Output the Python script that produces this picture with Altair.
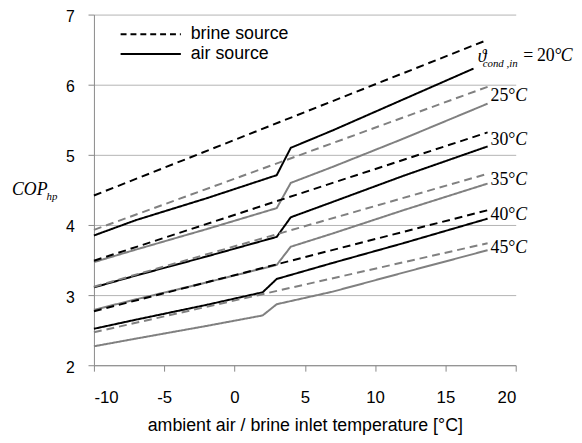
import altair as alt
import pandas as pd

# ---- data ----
cond_temps = [20, 25, 30, 35, 40, 45]
brine_x = [-10, 18]
brine_y = {
    20: [4.42, 6.64],
    25: [3.93, 5.97],
    30: [3.49, 5.32],
    35: [3.12, 4.73],
    40: [2.77, 4.21],
    45: [2.47, 3.74],
}
air_x = {
    20: [-10, -7, -2, 3, 4, 7, 12, 17],
    25: [-10, -7, -2, 3, 4, 7, 12, 18],
    30: [-10, -7, -2, 3, 4, 7, 12, 18],
    35: [-10, -7, -2, 3, 4, 7, 12, 18],
    40: [-10, -7, -2, 2, 3, 7, 12, 18],
    45: [-10, -7, -2, 2, 3, 7, 12, 18],
}
air_y = {
    20: [3.85, 4.07, 4.38, 4.71, 5.10, 5.35, 5.79, 6.23],
    25: [3.47, 3.65, 3.94, 4.24, 4.60, 4.83, 5.23, 5.73],
    30: [3.11, 3.28, 3.55, 3.83, 4.11, 4.33, 4.70, 5.12],
    35: [2.79, 2.94, 3.18, 3.43, 3.69, 3.88, 4.21, 4.59],
    40: [2.52, 2.65, 2.86, 3.04, 3.23, 3.46, 3.74, 4.09],
    45: [2.27, 2.38, 2.56, 2.71, 2.87, 3.05, 3.32, 3.64],
}
x_ticks = [-10, -5, 0, 5, 10, 15, 20]
y_ticks = [2, 3, 4, 5, 6, 7]
line_colors = ["#000000", "#808080", "#000000", "#808080", "#000000", "#808080"]

rows = []
for t in cond_temps:
    for x, y in zip(brine_x, brine_y[t]):
        rows.append({"x": x, "y": y, "cond": str(t), "src": "brine source", "series": f"b{t}"})
    for x, y in zip(air_x[t], air_y[t]):
        rows.append({"x": x, "y": y, "cond": str(t), "src": "air source", "series": f"a{t}"})
df = pd.DataFrame(rows)

lab_rows = []
for t in cond_temps:
    lab_rows.append({"x": 18, "y": (brine_y[t][-1] + air_y[t][-1]) / 2, "cond": str(t),
                     "num": f"{t}°"})
lab = pd.DataFrame(lab_rows)

W, H = 427, 355
SANS = "Liberation Sans"
SERIF = "Liberation Serif"

xs = alt.Scale(domain=[-10, 20], nice=False)
ys = alt.Scale(domain=[2, 7], nice=False)

lines = alt.Chart(df).mark_line(strokeWidth=2).encode(
    x=alt.X("x:Q", scale=xs, title="ambient air / brine inlet temperature [°C]",
            axis=alt.Axis(values=x_ticks, grid=False, domainColor="#888888", tickColor="#888888",
                          tickSize=6, labelFontSize=17, labelFont=SANS, labelColor="#000000",
                          labelPadding=19, labelExpr="'' + datum.value",
                          titleFont=SANS, titleFontSize=18, titleFontWeight="normal",
                          titleColor="#000000", titlePadding=11)),
    y=alt.Y("y:Q", scale=ys, title=None,
            axis=alt.Axis(values=y_ticks, grid=True, gridColor="#b3b3b3", domainColor="#888888",
                          tickColor="#888888", tickSize=6, labelFontSize=16, labelFont=SANS,
                          labelColor="#000000", labelPadding=14, labelOffset=2,
                          labelExpr="'' + datum.value")),
    color=alt.Color("cond:N", scale=alt.Scale(domain=[str(t) for t in cond_temps], range=line_colors),
                    legend=None),
    strokeDash=alt.StrokeDash("src:N", scale=alt.Scale(domain=["brine source", "air source"],
                                                       range=[[8, 5], [1, 0]]), legend=None),
    detail="series:N",
)

lab_other = lab[lab["cond"] != "20"]
lab20 = lab[lab["cond"] == "20"]

num_txt = alt.Chart(lab_other).mark_text(align="left", baseline="middle", font=SERIF, fontSize=18,
                                         dx=3, dy=1, color="#000000").encode(
    x=alt.X("x:Q", scale=xs), y=alt.Y("y:Q", scale=ys), text="num:N")
c_txt = alt.Chart(lab_other).mark_text(align="left", baseline="middle", font=SERIF, fontSize=18,
                                       fontStyle="italic", dx=28, dy=1, color="#000000").encode(
    x=alt.X("x:Q", scale=xs), y=alt.Y("y:Q", scale=ys), text=alt.value("C"))

theta = alt.Chart(lab20).mark_text(align="left", baseline="middle", font=SERIF, fontSize=18,
                                   fontStyle="italic", dx=-10, dy=3, color="#000000").encode(
    x=alt.X("x:Q", scale=xs), y=alt.Y("y:Q", scale=ys), text=alt.value("ϑ"))
sub = alt.Chart(lab20).mark_text(align="left", baseline="middle", font=SERIF, fontSize=11,
                                 fontStyle="italic", dx=-5, dy=10, color="#000000").encode(
    x=alt.X("x:Q", scale=xs), y=alt.Y("y:Q", scale=ys), text=alt.value("cond ,in"))
eq = alt.Chart(lab20).mark_text(align="left", baseline="middle", font=SERIF, fontSize=18,
                                dx=36, dy=2, color="#000000").encode(
    x=alt.X("x:Q", scale=xs), y=alt.Y("y:Q", scale=ys), text=alt.value("="))
n20 = alt.Chart(lab20).mark_text(align="left", baseline="middle", font=SERIF, fontSize=18,
                                 dx=50, dy=2, color="#000000").encode(
    x=alt.X("x:Q", scale=xs), y=alt.Y("y:Q", scale=ys), text="num:N")
c20 = alt.Chart(lab20).mark_text(align="left", baseline="middle", font=SERIF, fontSize=18,
                                 fontStyle="italic", dx=74, dy=2, color="#000000").encode(
    x=alt.X("x:Q", scale=xs), y=alt.Y("y:Q", scale=ys), text=alt.value("C"))

# manual legend (top-left inside the plot)
one = pd.DataFrame({"k": [0]})
leg_b = alt.Chart(one).mark_rule(color="#000000", strokeWidth=2, strokeDash=[6, 4]).encode(
    x=alt.value(27), x2=alt.value(88), y=alt.value(20))
leg_a = alt.Chart(one).mark_rule(color="#000000", strokeWidth=2).encode(
    x=alt.value(27), x2=alt.value(88), y=alt.value(40))
leg_bt = alt.Chart(one).mark_text(align="left", baseline="middle", font=SANS, fontSize=18,
                                  color="#000000").encode(
    x=alt.value(98), y=alt.value(20), text=alt.value("brine source"))
leg_at = alt.Chart(one).mark_text(align="left", baseline="middle", font=SANS, fontSize=18,
                                  color="#000000").encode(
    x=alt.value(98), y=alt.value(40), text=alt.value("air source"))

# y-axis title COP_hp
cop = alt.Chart(one).mark_text(align="left", baseline="alphabetic", font=SERIF, fontSize=18,
                               fontStyle="italic", color="#000000").encode(
    x=alt.value(-83), y=alt.value(183), text=alt.value("COP"))
hp = alt.Chart(one).mark_text(align="left", baseline="alphabetic", font=SERIF, fontSize=11,
                              fontStyle="italic", color="#000000").encode(
    x=alt.value(-48), y=alt.value(188), text=alt.value("hp"))

chart = alt.layer(lines, num_txt, c_txt, theta, sub, eq, n20, c20,
                  leg_b, leg_a, leg_bt, leg_at, cop, hp).properties(
    width=W, height=H,
    padding={"left": 87, "top": 4, "right": 59, "bottom": 70},
    autosize=alt.AutoSizeParams(type="none"),
    background="#ffffff",
).configure_view(stroke=None)

chart.save("out.html", embed_options={"renderer": "svg", "actions": False})
